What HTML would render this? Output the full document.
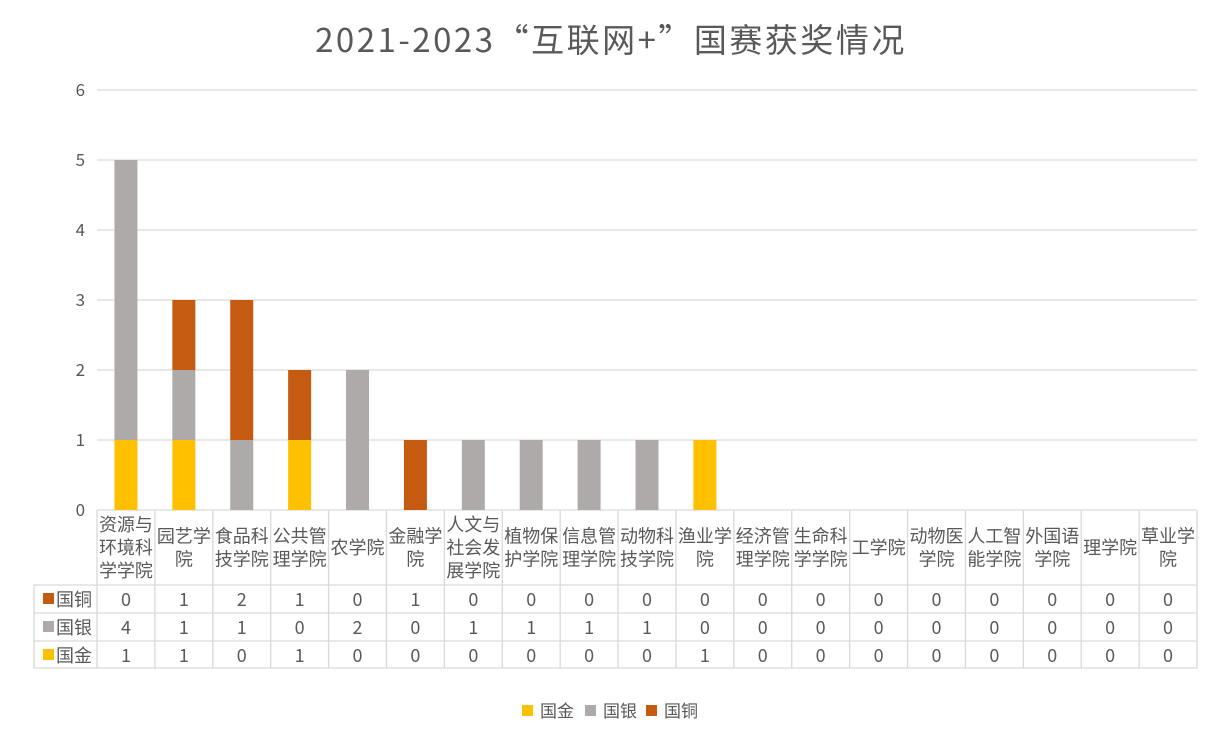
<!DOCTYPE html>
<html><head><meta charset="utf-8"><style>
html,body{margin:0;padding:0;background:#fff;}
svg text{font-family:"Noto Sans CJK SC","Liberation Sans",sans-serif;fill:#595959;}
</style></head><body>
<svg width="1222" height="742" xmlns="http://www.w3.org/2000/svg">
<text x="611" y="52" font-size="33" letter-spacing="2.5" text-anchor="middle">2021-2023“互联网+”国赛获奖情况</text>
<g stroke="#D9D9D9" stroke-width="1.3">
<line x1="97" y1="90" x2="1197" y2="90"/>
<line x1="97" y1="160" x2="1197" y2="160"/>
<line x1="97" y1="230" x2="1197" y2="230"/>
<line x1="97" y1="300" x2="1197" y2="300"/>
<line x1="97" y1="370" x2="1197" y2="370"/>
<line x1="97" y1="440" x2="1197" y2="440"/>
<line x1="97" y1="510" x2="1197" y2="510"/>
</g>
<g font-size="17" text-anchor="end">
<text x="85" y="96">6</text><text x="85" y="166">5</text><text x="85" y="236">4</text>
<text x="85" y="306">3</text><text x="85" y="376">2</text><text x="85" y="446">1</text><text x="85" y="516">0</text>
</g>
<g id="bars"></g>
<g id="table" stroke="#D9D9D9" stroke-width="1.3" fill="none"></g>
<g id="txt" font-size="18" text-anchor="middle"></g>
<rect x="522" y="705" width="11" height="11" fill="#FFC000"/><text x="540" y="717" font-size="17">国金</text>
<rect x="585" y="705" width="11" height="11" fill="#AEAAAA"/><text x="603" y="717" font-size="17">国银</text>
<rect x="646" y="705" width="11" height="11" fill="#C55A11"/><text x="664" y="717" font-size="17">国铜</text>
</svg>
<script>
const names=["资源与环境科学学院","园艺学院","食品科技学院","公共管理学院","农学院","金融学院","人文与社会发展学院","植物保护学院","信息管理学院","动物科技学院","渔业学院","经济管理学院","生命科学学院","工学院","动物医学院","人工智能学院","外国语学院","理学院","草业学院"];
const cu=[0,1,2,1,0,1,0,0,0,0,0,0,0,0,0,0,0,0,0];
const ag=[4,1,1,0,2,0,1,1,1,1,0,0,0,0,0,0,0,0,0];
const au=[1,1,0,1,0,0,0,0,0,0,1,0,0,0,0,0,0,0,0];
const ns="http://www.w3.org/2000/svg";
const W=1100/19,x0=97,U=70,B=510;
function el(p,t,a,txt){const e=document.createElementNS(ns,t);for(const k in a)e.setAttribute(k,a[k]);if(txt!==undefined)e.textContent=txt;document.getElementById(p).appendChild(e);}
for(let i=0;i<19;i++){
 const c=x0+W*i+W/2,bw=23;let y=B;
 [[au[i],"#FFC000"],[ag[i],"#AEAAAA"],[cu[i],"#C55A11"]].forEach(([v,col])=>{if(v>0){el("bars","rect",{x:c-bw/2,y:y-v*U,width:bw,height:v*U,fill:col});y-=v*U;}});
 const n=names[i];let lines=[];
 if(n.length<=3)lines=[n];else for(let k=0;k<n.length;k+=3)lines.push(n.slice(k,k+3));
 const h=23,mid=554,start=mid-(lines.length-1)*h/2;
 lines.forEach((l,j)=>el("txt","text",{x:c,y:start+j*h},l));
 [cu,ag,au].forEach((arr,r)=>el("txt","text",{x:c,y:606+r*28},arr[i]));
}
for(let i=0;i<=19;i++){const x=x0+W*i;el("table","line",{x1:x,y1:510,x2:x,y2:668});}
el("table","line",{x1:34,y1:585,x2:34,y2:668});
[585,613,641,668].forEach(y=>el("table","line",{x1:34,y1:y,x2:1197,y2:y}));
[["国铜","#C55A11"],["国银","#AEAAAA"],["国金","#FFC000"]].forEach(([t,c],r)=>{
 el("txt","rect",{x:43,y:593+r*28,width:11,height:11,fill:c});
 el("txt","text",{x:74,y:606+r*28,"text-anchor":"middle"},t);
});
</script>
</body></html>
